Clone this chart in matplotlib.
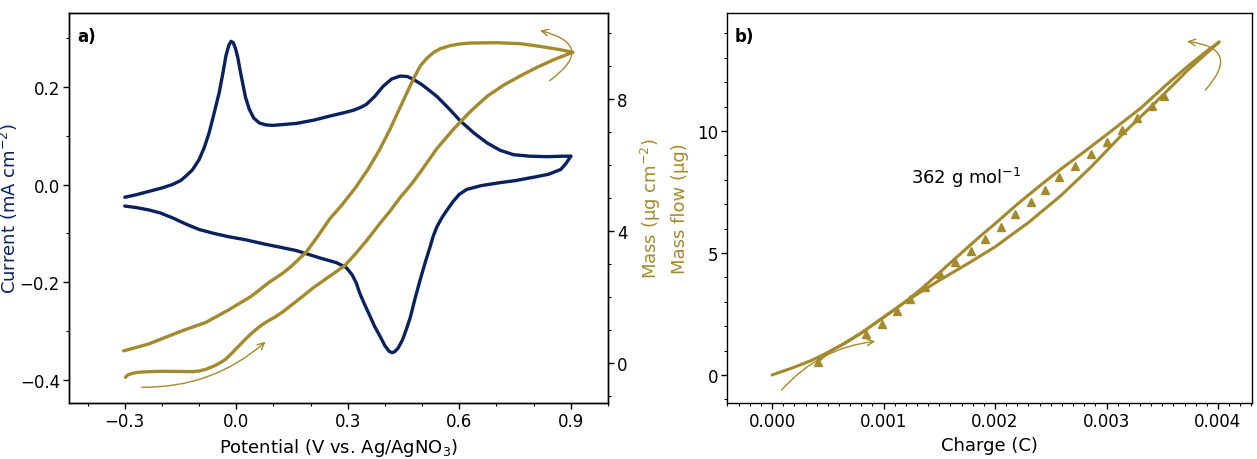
import numpy as np
from matplotlib import pyplot as plt
from matplotlib.ticker import MultipleLocator

NAVY = "#0b215e"
GOLD = "#a38a2c"

# panel a: cyclic voltammogram (current, mA cm-2) and mass (ug cm-2)
cv_fwd_E = [-0.300, -0.270, -0.235, -0.200, -0.172, -0.150, -0.136, -0.118, -0.100, -0.086,
            -0.073, -0.060, -0.046, -0.036, -0.028, -0.020, -0.014, -0.008, -0.002, 0.004,
            0.010, 0.017, 0.025, 0.035, 0.047, 0.062, 0.080, 0.098, 0.161, 0.210,
            0.251, 0.290, 0.315, 0.335, 0.350, 0.372, 0.395, 0.418, 0.441, 0.460,
            0.477, 0.500, 0.522, 0.540, 0.570, 0.603, 0.640, 0.675, 0.710, 0.746,
            0.790, 0.837, 0.880, 0.900]
cv_fwd_I = [-0.026, -0.021, -0.014, -0.007, 0.000, 0.008, 0.017, 0.030, 0.051, 0.076,
            0.106, 0.145, 0.188, 0.228, 0.263, 0.285, 0.293, 0.290, 0.278, 0.260,
            0.235, 0.208, 0.178, 0.154, 0.136, 0.126, 0.122, 0.121, 0.125, 0.132,
            0.140, 0.147, 0.152, 0.158, 0.164, 0.180, 0.201, 0.216, 0.222, 0.221,
            0.215, 0.204, 0.191, 0.180, 0.157, 0.130, 0.105, 0.085, 0.070, 0.061,
            0.058, 0.057, 0.058, 0.058]
cv_rev_E = [0.900, 0.887, 0.873, 0.840, 0.800, 0.750, 0.711, 0.660, 0.620, 0.600,
            0.583, 0.568, 0.553, 0.540, 0.530, 0.522, 0.508, 0.495, 0.481, 0.468,
            0.458, 0.447, 0.435, 0.426, 0.419, 0.411, 0.400, 0.385, 0.372, 0.359,
            0.345, 0.332, 0.323, 0.312, 0.296, 0.270, 0.224, 0.161, 0.110, 0.071,
            0.025, -0.019, -0.060, -0.100, -0.135, -0.172, -0.205, -0.235, -0.270, -0.300]
cv_rev_I = [0.058, 0.043, 0.031, 0.021, 0.015, 0.008, 0.004, -0.002, -0.010, -0.020,
            -0.035, -0.051, -0.068, -0.086, -0.105, -0.126, -0.160, -0.194, -0.233, -0.272,
            -0.295, -0.318, -0.335, -0.342, -0.344, -0.341, -0.330, -0.308, -0.290, -0.268,
            -0.245, -0.222, -0.202, -0.185, -0.170, -0.160, -0.150, -0.135, -0.127, -0.121,
            -0.113, -0.107, -0.100, -0.092, -0.081, -0.068, -0.058, -0.052, -0.047, -0.044]

mass_fwd_E = [-0.298, -0.292, -0.285, -0.270, -0.253, -0.220, -0.190, -0.150, -0.118, -0.100,
              -0.082, -0.060, -0.040, -0.028, -0.010, 0.008, 0.025, 0.044, 0.060, 0.080,
              0.105, 0.125, 0.165, 0.206, 0.250, 0.292, 0.320, 0.350, 0.386, 0.415,
              0.440, 0.470, 0.495, 0.540, 0.585, 0.630, 0.675, 0.720, 0.765, 0.810,
              0.855, 0.905]
mass_fwd_m = [-0.43, -0.36, -0.33, -0.29, -0.27, -0.255, -0.25, -0.255, -0.26, -0.24,
              -0.19, -0.09, 0.03, 0.12, 0.32, 0.53, 0.73, 0.93, 1.08, 1.24,
              1.40, 1.55, 1.90, 2.27, 2.62, 2.95, 3.30, 3.70, 4.22, 4.62,
              5.00, 5.40, 5.78, 6.50, 7.09, 7.62, 8.08, 8.42, 8.70, 8.96,
              9.19, 9.41]
mass_rev_E = [0.905, 0.880, 0.855, 0.810, 0.765, 0.700, 0.630, 0.600, 0.575, 0.549,
              0.530, 0.512, 0.495, 0.482, 0.468, 0.441, 0.414, 0.385, 0.355, 0.320,
              0.285, 0.251, 0.220, 0.188, 0.150, 0.125, 0.089, 0.040, -0.019, -0.082,
              -0.145, -0.190, -0.235, -0.270, -0.303]
mass_rev_m = [9.41, 9.47, 9.52, 9.60, 9.67, 9.70, 9.69, 9.66, 9.61, 9.52,
              9.40, 9.22, 9.00, 8.72, 8.40, 7.75, 7.09, 6.45, 5.88, 5.30,
              4.80, 4.36, 3.85, 3.36, 2.95, 2.72, 2.45, 2.02, 1.62, 1.23,
              0.98, 0.78, 0.58, 0.47, 0.37]

# panel b: mass flow (ug) vs charge (C)
qm_fwd_q = [0.0, 0.00017, 0.00034, 0.00050, 0.00064, 0.00080, 0.00094, 0.00108, 0.00121,
            0.00135, 0.00150, 0.00175, 0.00200, 0.00230, 0.00259, 0.00286, 0.00315,
            0.00340, 0.00360, 0.00373, 0.00390, 0.00401]
qm_fwd_m = [0.0, 0.27, 0.57, 0.92, 1.27, 1.72, 2.17, 2.62, 3.05,
            3.45, 3.88, 4.55, 5.25, 6.25, 7.35, 8.52, 9.90,
            11.00, 11.90, 12.50, 13.20, 13.65]
qm_rev_q = [0.00401, 0.00390, 0.00373, 0.00355, 0.00331, 0.00300, 0.00280, 0.00259,
            0.00240, 0.00220, 0.00200, 0.00187, 0.00160, 0.00137, 0.00121, 0.00108,
            0.00094, 0.00080, 0.00064, 0.00050, 0.00041]
qm_rev_m = [13.65, 13.28, 12.66, 11.95, 10.95, 9.85, 9.15, 8.44,
            7.75, 7.00, 6.20, 5.70, 4.60, 3.65, 3.05, 2.62,
            2.17, 1.72, 1.27, 0.92, 0.55]

fit_q = [0.00041, 0.00084, 0.00099, 0.00112, 0.00124, 0.00137, 0.00151, 0.00164, 0.00178,
         0.00191, 0.00205, 0.00218, 0.00232, 0.00245, 0.00257, 0.00272, 0.00286, 0.00300,
         0.00314, 0.00327, 0.00341, 0.00352]
fit_m = [0.53, 1.68, 2.09, 2.62, 3.10, 3.62, 4.14, 4.63, 5.08,
         5.57, 6.07, 6.60, 7.09, 7.58, 8.11, 8.57, 9.06, 9.55,
         10.04, 10.53, 11.02, 11.43]

plt.rcParams['font.family'] = 'DejaVu Sans'
plt.rcParams['font.size'] = 12

fig = plt.figure(figsize=(12.57, 4.6), dpi=100)
ax = fig.add_axes([0.0549, 0.1217, 0.4288, 0.8479])
ax2 = ax.twinx()
bx = fig.add_axes([0.5784, 0.1217, 0.4176, 0.8479])

for a in (ax, ax2, bx):
    a.tick_params(which='major', direction='out', length=4, width=1, labelsize=12, pad=2.5)
    a.tick_params(which='minor', direction='out', length=2.2, width=0.8)
    for s in a.spines.values():
        s.set_linewidth(1)

# a) current
ax.plot(cv_fwd_E, cv_fwd_I, color=NAVY, lw=2.4, solid_capstyle='round', solid_joinstyle='round')
ax.plot(cv_rev_E, cv_rev_I, color=NAVY, lw=2.4, solid_capstyle='round', solid_joinstyle='round')
ax.set_xlim(-0.45, 1.0)
ax.set_ylim(-0.447, 0.351)
ax.xaxis.set_major_locator(MultipleLocator(0.3))
ax.xaxis.set_minor_locator(MultipleLocator(0.1))
ax.yaxis.set_major_locator(MultipleLocator(0.2))
ax.yaxis.set_minor_locator(MultipleLocator(0.1))
ax.xaxis.set_major_formatter(lambda v, p: f"{v:.1f}".replace("-", "\u2212"))
ax.yaxis.set_major_formatter(lambda v, p: f"{v:.1f}".replace("-", "\u2212"))
ax.set_xlabel("Potential (V vs. Ag/AgNO$_3$)", fontsize=13, labelpad=4)
ax.set_ylabel("Current (mA cm$^{-2}$)", fontsize=13, color=NAVY)
ax.yaxis.set_label_coords(-0.090, 0.5)
ax.text(0.015, 0.965, "a)", transform=ax.transAxes, fontsize=12, fontweight='bold',
        va='top', ha='left')

# a) mass
ax2.plot(mass_fwd_E, mass_fwd_m, color=GOLD, lw=2.4, solid_capstyle='round', solid_joinstyle='round')
ax2.plot(mass_rev_E, mass_rev_m, color=GOLD, lw=2.4, solid_capstyle='round', solid_joinstyle='round')
ax2.set_ylim(-1.21, 10.6)
ax2.yaxis.set_major_locator(MultipleLocator(4))
ax2.yaxis.set_minor_locator(MultipleLocator(1))
ax2.set_ylabel("Mass (\u03bcg cm$^{-2}$)", fontsize=13, color=GOLD)
ax2.yaxis.set_label_coords(1.057, 0.5)
ax2.annotate("", xy=(0.084, 0.70), xytext=(-0.262, -0.73),
             arrowprops=dict(arrowstyle="->", color=GOLD, lw=1,
                             connectionstyle="arc3,rad=0.2"))
ax2.annotate("", xy=(0.81, 10.09), xytext=(0.837, 8.5),
             arrowprops=dict(arrowstyle="->", color=GOLD, lw=1,
                             connectionstyle="arc3,rad=1.1"))

# b)
bx.plot(qm_fwd_q, qm_fwd_m, color=GOLD, lw=2.2, solid_capstyle='round', solid_joinstyle='round')
bx.plot(qm_rev_q, qm_rev_m, color=GOLD, lw=2.2, solid_capstyle='round', solid_joinstyle='round')
bx.plot(fit_q, fit_m, ls='none', marker='^', ms=6, color=GOLD)
bx.set_xlim(-0.000404, 0.004305)
bx.set_ylim(-1.15, 14.84)
bx.xaxis.set_major_locator(MultipleLocator(0.001))
bx.xaxis.set_minor_locator(MultipleLocator(0.0001))
bx.yaxis.set_major_locator(MultipleLocator(5))
bx.yaxis.set_minor_locator(MultipleLocator(1))
bx.xaxis.set_major_formatter(lambda v, p: f"{v:.3f}")
bx.set_xlabel("Charge (C)", fontsize=13, labelpad=4)
bx.set_ylabel("Mass flow (\u03bcg)", fontsize=13, color=GOLD)
bx.yaxis.set_label_coords(-0.072, 0.5)
bx.text(0.00174, 8.1, "362 g mol$^{-1}$", fontsize=13, ha='center', va='center')
bx.text(0.015, 0.965, "b)", transform=bx.transAxes, fontsize=12, fontweight='bold',
        va='top', ha='left')
bx.annotate("", xy=(0.00095, 1.39), xytext=(0.00007, -0.70),
            arrowprops=dict(arrowstyle="->", color=GOLD, lw=1,
                            connectionstyle="arc3,rad=-0.2"))
bx.annotate("", xy=(0.0037, 13.69), xytext=(0.00387, 11.6),
            arrowprops=dict(arrowstyle="->", color=GOLD, lw=1,
                            connectionstyle="arc3,rad=1.0"))

fig.savefig("out.png", dpi=100)
